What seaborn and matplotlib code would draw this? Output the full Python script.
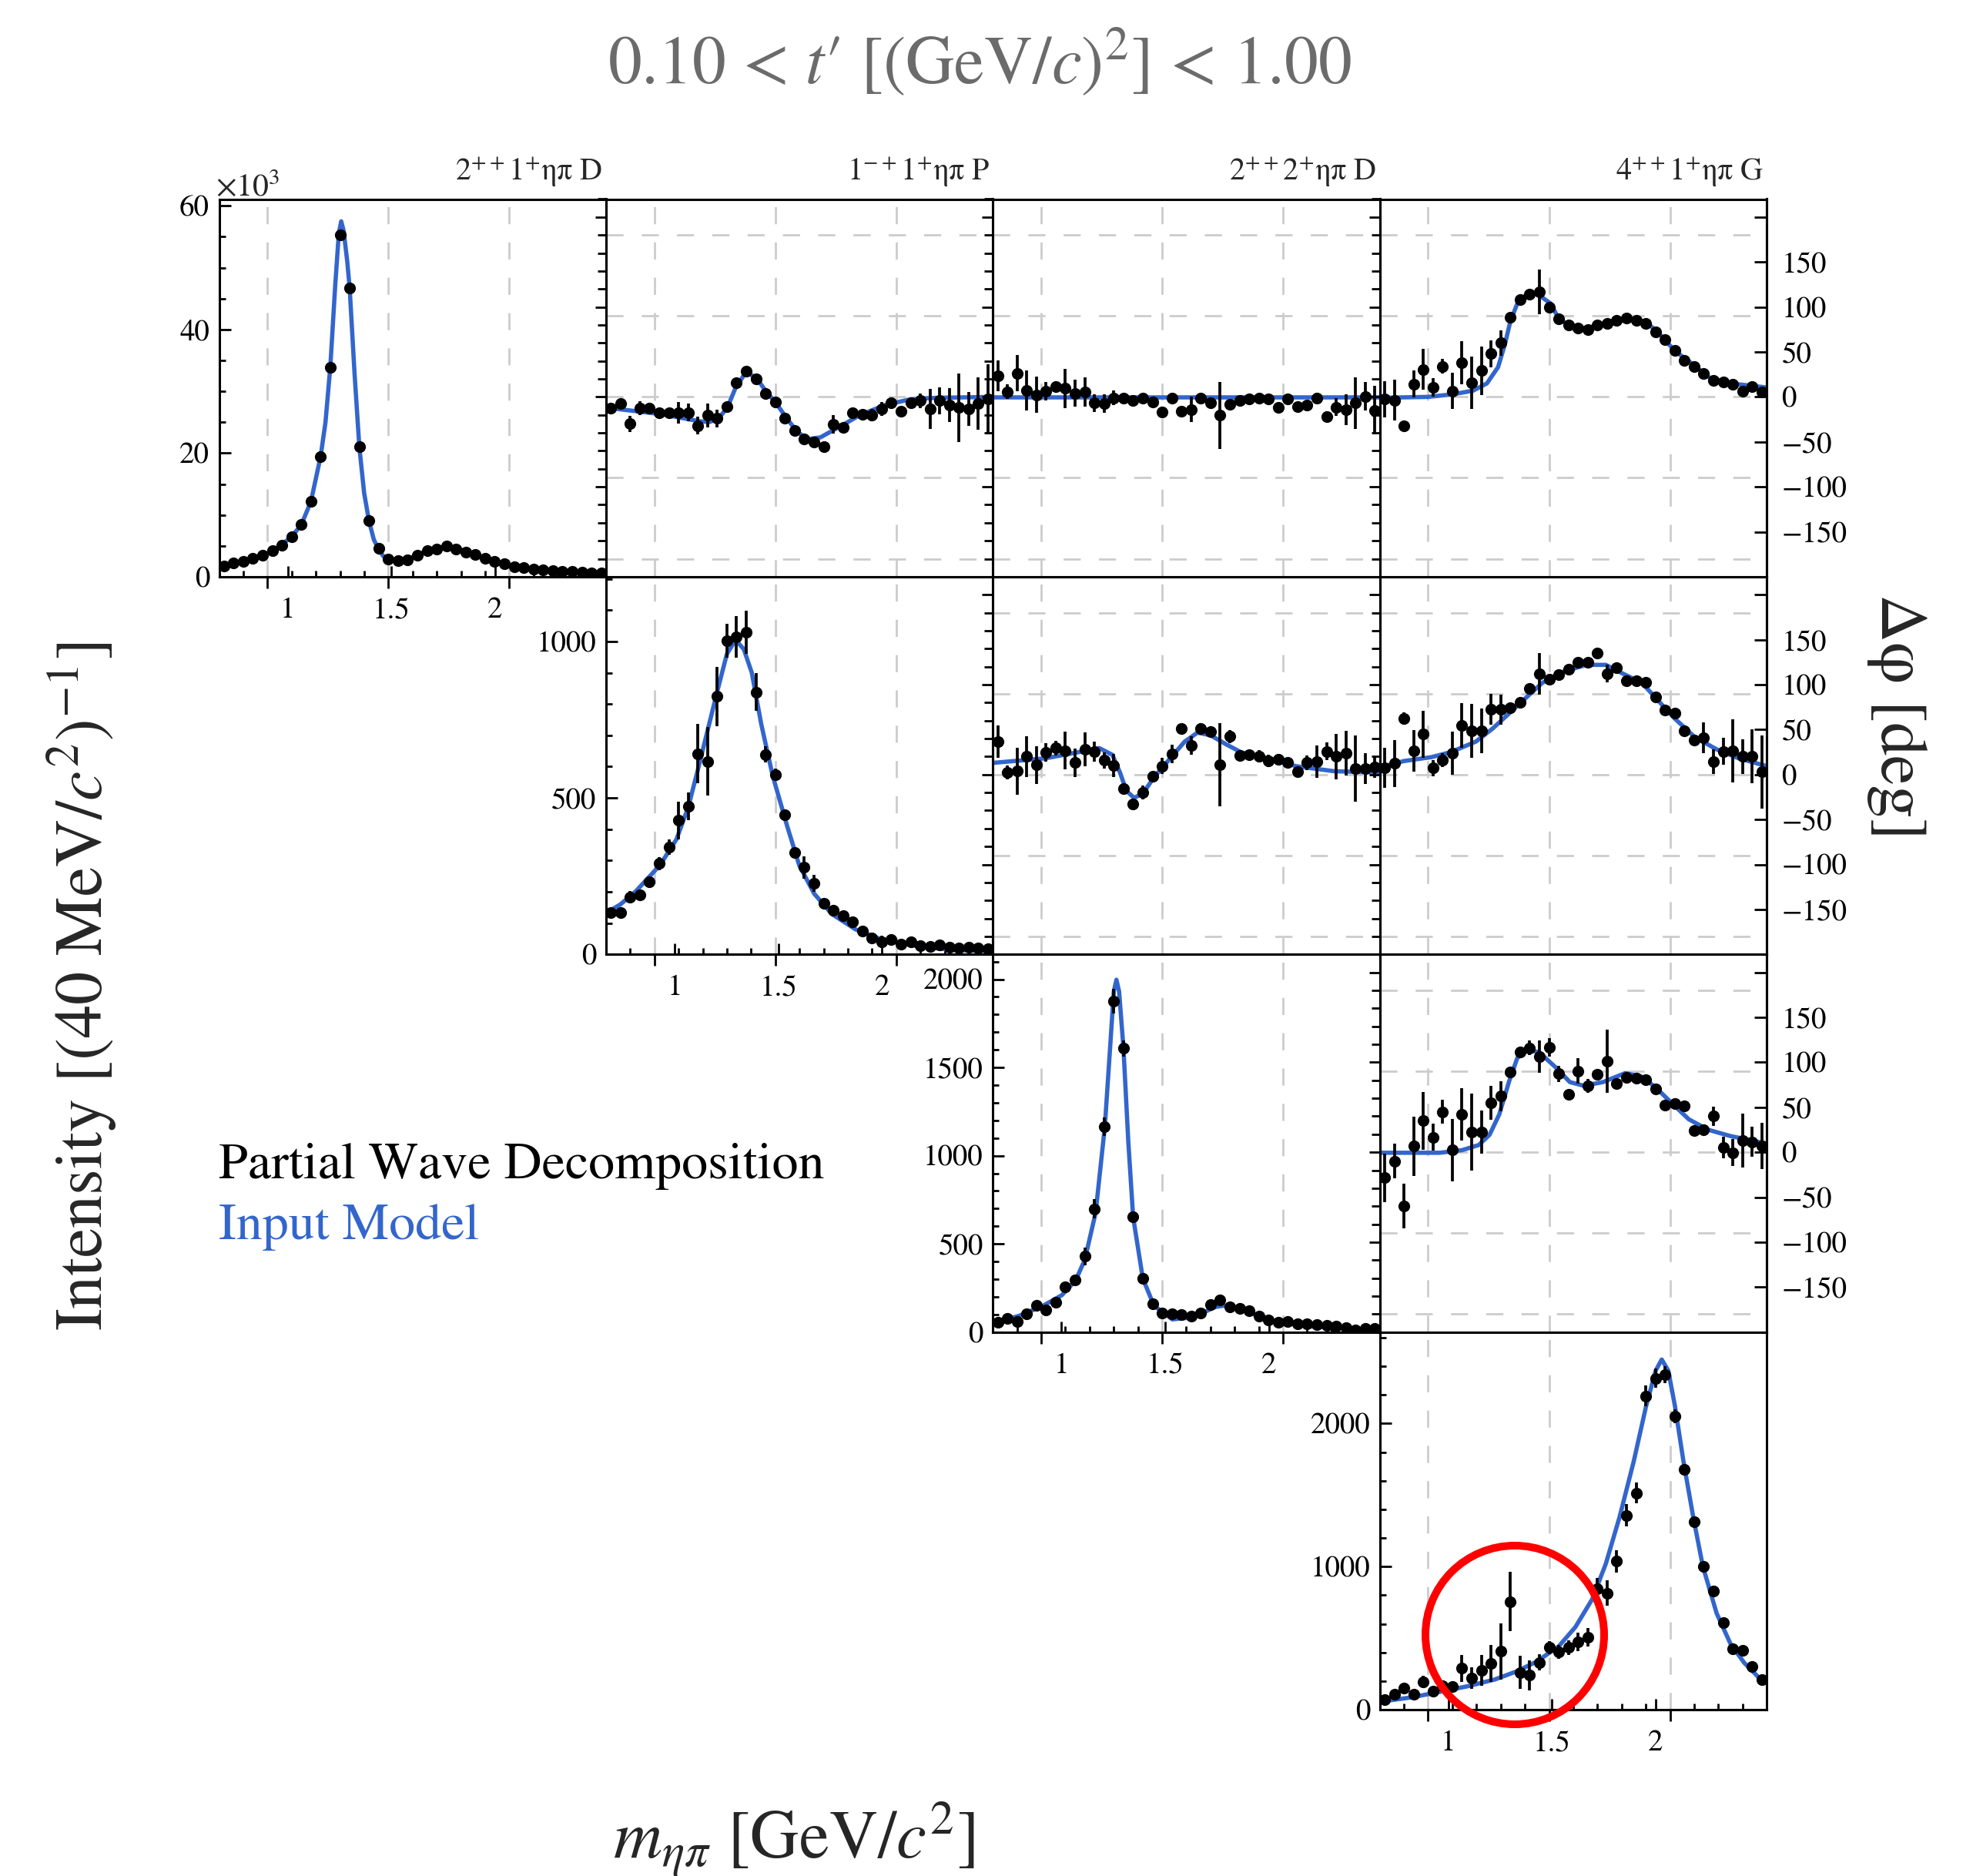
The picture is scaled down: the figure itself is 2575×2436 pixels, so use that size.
import numpy as np
import pandas as pd
import matplotlib
matplotlib.use("Agg")
import matplotlib.pyplot as plt
import seaborn as sns
from matplotlib.patches import Ellipse
from matplotlib.ticker import MultipleLocator, FixedLocator, FuncFormatter, NullLocator

# ---------------- data ----------------
mass_bins = [0.82, 0.86, 0.90, 0.94, 0.98, 1.02, 1.06, 1.10, 1.14, 1.18,
             1.22, 1.26, 1.30, 1.34, 1.38, 1.42, 1.46, 1.50, 1.54, 1.58,
             1.62, 1.66, 1.70, 1.74, 1.78, 1.82, 1.86, 1.90, 1.94, 1.98,
             2.02, 2.06, 2.10, 2.14, 2.18, 2.22, 2.26, 2.30, 2.34, 2.38]

wave_titles = [r"$2^{++}1^{+}$ηπ D", r"$1^{-+}1^{+}$ηπ P",
               r"$2^{++}2^{+}$ηπ D", r"$4^{++}1^{+}$ηπ G"]

# intensities (diagonal)
int_2pp1p = [1760, 2280, 2470, 2950, 3420, 4180, 5090, 6510, 8420, 12200,
             19400, 33900, 55300, 46700, 21100, 9080, 4560, 2850, 2620, 2760,
             3420, 4280, 4520, 4990, 4520, 3990, 3570, 2950, 2470, 2140,
             1660, 1430, 1190, 1050, 950, 860, 810, 710, 620, 570]
int_2pp1p_err = [80, 90, 90, 100, 110, 120, 130, 150, 170, 200,
                 250, 300, 250, 300, 250, 180, 130, 100, 100, 100,
                 110, 120, 120, 130, 120, 110, 100, 90, 85, 80,
                 70, 65, 60, 55, 50, 50, 45, 45, 40, 40]
model_2pp1p_x = [0.80, 0.90, 1.00, 1.06, 1.10, 1.14, 1.18, 1.22, 1.24, 1.26, 1.28, 1.295,
                 1.305, 1.315, 1.33, 1.34, 1.36, 1.38, 1.40, 1.42, 1.44, 1.46, 1.48, 1.50,
                 1.54, 1.58, 1.62, 1.66, 1.70, 1.74, 1.78, 1.82, 1.86, 1.90, 1.94, 2.00,
                 2.10, 2.20, 2.30, 2.40]
model_2pp1p_y = [1600, 2500, 3800, 5200, 6500, 8400, 12200, 19500, 25000, 34000, 47000, 55500,
                 57500, 56000, 51000, 46700, 33000, 21000, 13500, 9000, 6000, 4400, 3300, 2800,
                 2600, 2900, 3500, 4200, 4600, 4800, 4600, 4100, 3500, 3000, 2500, 1900,
                 1300, 950, 700, 550]

int_1mp1p = [134.5, 134.5, 182, 190, 231, 290, 342, 428, 473, 641,
             617, 824, 1002, 1015, 1029, 838, 639, 574, 445, 326,
             278, 227, 162, 141, 125, 104, 75.5, 52.5, 40, 46.8,
             32.8, 41, 27.9, 24.6, 30.4, 22.1, 20.5, 23.8, 19.7, 17.2]
int_1mp1p_err = [8, 8, 20, 10, 15, 20, 25, 60, 45, 95,
                 110, 95, 55, 66, 68, 60, 25, 20, 12, 10,
                 35, 28, 10, 8, 8, 8, 8, 8, 20, 8,
                 6, 6, 6, 6, 6, 5, 5, 5, 5, 5]
model_1mp1p_x = [0.80, 0.86, 0.925, 1.023, 1.091, 1.14, 1.18, 1.22, 1.26, 1.30, 1.336, 1.37,
                 1.403, 1.442, 1.489, 1.55, 1.599, 1.661, 1.734, 1.832, 1.943, 2.09, 2.237, 2.40]
model_1mp1p_y = [132, 160, 203, 285, 367, 470, 590, 715, 840, 960, 1005, 975,
                 900, 736, 572, 408, 285, 194, 129, 80, 47, 26, 14, 10]

int_2pp2p = [55, 78.5, 58.5, 105, 150, 125, 170, 256, 296, 429,
             698, 1165, 1875, 1609, 652, 304, 159, 109, 105, 100,
             92, 109, 155, 180, 142, 134, 122, 92, 67, 55,
             58.5, 47, 45, 42, 37, 33, 25, 12, 22, 20]
int_2pp2p_err = [10, 10, 10, 10, 10, 10, 10, 12, 15, 50,
                 54, 53, 71, 46, 15, 12, 10, 8, 8, 8,
                 8, 8, 8, 8, 8, 8, 8, 6, 6, 6,
                 6, 5, 5, 5, 5, 5, 5, 5, 5, 5]
model_2pp2p_x = [0.80, 0.908, 1.009, 1.085, 1.142, 1.18, 1.225, 1.263, 1.288, 1.30, 1.311, 1.322,
                 1.34, 1.36, 1.38, 1.42, 1.466, 1.542, 1.63, 1.719, 1.757, 1.833, 1.947, 2.10, 2.40]
model_2pp2p_y = [48, 92, 150, 209, 292, 409, 677, 1165, 1679, 1930, 1997, 1930,
                 1609, 1080, 652, 304, 150, 72, 84, 142, 150, 125, 67, 33, 12]

int_4pp1p = [71, 106, 150, 106, 196, 131, 170, 164, 289, 222,
             274, 324, 408, 755, 260, 241, 331, 434, 405, 434,
             476, 505, 848, 815, 1037, 1358, 1513, 2193, 2316, 2341,
             2052, 1680, 1316, 1002, 829, 607, 428, 414, 302, 212]
int_4pp1p_err = [10, 10, 10, 10, 43, 10, 15, 15, 96, 77,
                 108, 130, 197, 207, 116, 106, 58, 48, 48, 52,
                 64, 64, 71, 87, 77, 77, 73, 73, 67, 58,
                 48, 30, 25, 20, 15, 15, 12, 12, 10, 10]
model_4pp1p_x = [0.80, 0.934, 1.048, 1.163, 1.277, 1.369, 1.449, 1.54, 1.609, 1.678, 1.735, 1.792,
                 1.85, 1.901, 1.941, 1.966, 1.993, 2.021, 2.056, 2.096, 2.136, 2.193, 2.25, 2.307,
                 2.364, 2.40]
model_4pp1p_y = [56, 87, 125, 164, 212, 270, 337, 443, 578, 771, 1021, 1349,
                 1734, 2119, 2370, 2447, 2370, 2119, 1734, 1349, 1002, 674, 462, 328,
                 231, 198]

# phase differences (off-diagonal), degrees
ph_01 = [-12.4, -7.5, -29.8, -12.4, -12.4, -17.3, -18, -17.3, -17.3, -32,
         -20.6, -23.9, -10.8, 15.4, 28.5, 20.3, 3.9, -5.9, -23.9, -37,
         -46.8, -50, -55, -30.4, -33.7, -17.3, -19, -20, -13.4, -6.9,
         -15.7, -6.9, -4.3, -13.4, -4.3, -9.2, -11.8, -13.4, -7.5, -2.6]
ph_01_err = [3, 3, 9, 8, 3, 3, 3, 12, 10, 10, 13, 10, 3, 3, 3, 3, 3, 3, 3, 3,
             3, 3, 3, 10, 3, 3, 3, 7, 8, 3, 3, 3, 8, 22, 15, 19, 38, 19, 29, 39]
mph_01_x = [0.80, 1.024, 1.185, 1.227, 1.265, 1.302, 1.334, 1.377, 1.42, 1.462, 1.505, 1.548,
            1.59, 1.633, 1.687, 1.74, 1.794, 1.847, 1.954, 2.06, 2.167, 2.40]
mph_01_y = [-12, -19, -27, -28, -24, -12, 9, 27, 22, 6, -7.5, -24,
            -38.6, -47, -45, -37, -29, -20.6, -9, -2.6, -1, 0]

ph_02 = [23.6, 5.6, 26.2, 7.2, 2.3, 6.2, 11.1, 9.5, 3.9, 5.6,
         -6.9, -7.5, -1, -1, -3.6, -1, -5.9, -16.4, -1, -15.7,
         -14, -1.6, -6.9, -20.6, -8.5, -3.6, -2, -1, -2.6, -11.4,
         -2.6, -10.8, -9.2, -1, -22, -11.4, -14, -6.9, 0.7, -14.7]
ph_02_err = [17, 8, 20, 22, 20, 10, 6, 22, 15, 16, 10, 10, 8, 3, 3, 5, 3, 6, 6, 3,
             14, 5, 3, 37, 3, 3, 3, 3, 3, 3, 3, 3, 3, 6, 6, 10, 17, 29, 16, 27]
mph_02_x = [0.80, 2.40]
mph_02_y = [-0.5, -0.5]

ph_03 = [-2.6, -3.6, -32, 14.4, 30.7, 10.5, 34, 6.5, 37.6, 16,
         29.4, 48, 60, 88.3, 108, 114.5, 116.8, 99.8, 86.7, 80.1,
         76.9, 74.9, 80.1, 81.8, 84.7, 87.3, 85, 81.5, 72.6, 63.8,
         51.4, 40.9, 33.4, 26.2, 18, 16.4, 13.7, 6.5, 11.1, 5.6]
ph_03_err = [20, 23, 6, 15, 23, 10, 8, 20, 24, 29, 27, 15, 14, 3, 3, 5, 25, 3, 3, 3,
             3, 3, 3, 3, 3, 3, 3, 3, 3, 3, 3, 3, 3, 3, 3, 3, 3, 3, 3, 3]
mph_03_x = [0.80, 1.0, 1.105, 1.186, 1.243, 1.289, 1.317, 1.34, 1.369, 1.403, 1.449, 1.506,
            1.54, 1.586, 1.655, 1.712, 1.827, 1.907, 1.953, 2.021, 2.101, 2.159, 2.25, 2.40]
mph_03_y = [-1, 0, 3, 7, 15, 33, 58, 84, 104, 113, 115, 104,
            87, 79, 76, 81, 86, 82, 71, 51, 35, 22, 15, 10.5]

ph_12 = [36.6, 2.3, 3.7, 20, 10.9, 24.6, 29.4, 26.6, 13.1, 28,
         25.7, 16, 10.3, -15.4, -32.6, -20, -2, 9.4, 23, 51.4,
         32.3, 50.9, 48, 10.9, 42.3, 20.9, 21.7, 20.3, 15.1, 17.1,
         13.1, 2.9, 13.1, 14.3, 25.7, 20, 23.7, 6.6, 6.6, 8]
ph_12_err = [18, 8, 26, 23, 21, 10, 8, 21, 16, 19, 11, 9, 13, 3, 3, 8, 3, 9, 10, 3,
             10, 6, 3, 46, 7, 3, 3, 7, 7, 6, 3, 3, 8, 18, 10, 25, 25, 37, 17, 12]
mph_12_x = [0.80, 1.016, 1.155, 1.24, 1.294, 1.326, 1.352, 1.384, 1.422, 1.465, 1.529, 1.593,
            1.646, 1.70, 1.764, 1.828, 1.945, 2.052, 2.212, 2.40]
mph_12_y = [13, 18, 25, 29.4, 22, 2, -18, -26, -20.6, -3.4, 16.6, 36.6,
            46.6, 43.7, 33.7, 24.6, 18, 9.4, 3.7, 2.3]

ph_13 = [7.4, 12.3, 62.3, 26.6, 45, 7.4, 16, 23.7, 54.6, 48.6,
         48.6, 72.9, 72.3, 74.6, 80.3, 96, 112.3, 105.7, 110.9, 117.4,
         124.6, 125.1, 135.1, 112.3, 118.6, 104.6, 104.6, 102.3, 86.6, 71.4,
         68, 48.6, 38, 40.9, 14.3, 25.7, 26.6, 20, 20, 2.9]
ph_13_err = [22, 26, 7, 23, 26, 9, 8, 24, 25, 30, 25, 17, 17, 3, 3, 3, 23, 3, 3, 3,
             3, 3, 3, 10, 3, 3, 3, 3, 3, 3, 3, 3, 3, 17, 14, 15, 35, 19, 30, 41]
mph_13_x = [0.80, 0.899, 1.014, 1.094, 1.197, 1.266, 1.335, 1.403, 1.472, 1.563, 1.655, 1.735,
            1.792, 1.884, 1.952, 2.021, 2.101, 2.193, 2.285, 2.40]
mph_13_y = [8, 15, 19.4, 25, 36.6, 51, 68, 85, 102, 115, 122, 122,
            114, 102, 82, 62, 42, 28, 18, 9.4]

ph_23 = [-28.3, -9.7, -59.7, 6.6, 35.1, 16.6, 45.1, 2.3, 42.3, 22.3,
         22.3, 55.1, 62.3, 89.4, 111.4, 116, 106.6, 116.6, 87.4, 64.6,
         90.3, 73.7, 86.6, 101.4, 76.6, 83.1, 82.3, 80.3, 70.3, 52.3,
         54.3, 51.4, 24.3, 25.1, 40, 5.7, -0.6, 13.1, 11.7, 7.1]
ph_23_err = [27, 19, 25, 33, 32, 15, 13, 35, 29, 43, 24, 19, 17, 3, 3, 8, 18, 10, 9, 3,
             14, 8, 3, 35, 3, 3, 3, 3, 3, 3, 3, 3, 3, 3, 11, 12, 15, 30, 17, 26]
mph_23_x = [0.80, 1.048, 1.14, 1.209, 1.254, 1.294, 1.335, 1.369, 1.415, 1.46, 1.529, 1.586,
            1.643, 1.723, 1.815, 1.884, 1.941, 2.01, 2.078, 2.158, 2.25, 2.341, 2.40]
mph_23_y = [-0.6, -0.6, 2.3, 8, 19.4, 42, 79, 105, 114, 111, 94, 78,
            74, 78, 88, 84, 72, 54, 36.6, 25, 18, 13, 9.4]

x_label_ticks = [1, 1.5, 2]
x_label_text = ["1", "1.5", "2"]
x_grid = [1.0, 1.5, 2.0]
phase_grid = [-180, -90, 0, 90, 180]
phase_label_ticks = [-150, -100, -50, 0, 50, 100, 150, 200]

# ---------------- style ----------------
sns.set_theme(style="ticks", rc={"axes.edgecolor": "black", "axes.linewidth": 2.2,
                                 "xtick.color": "black", "ytick.color": "black",
                                 "axes.facecolor": "none", "figure.facecolor": "white"})
plt.rcParams['font.family'] = ['STIXGeneral', 'DejaVu Serif']
plt.rcParams['mathtext.fontset'] = 'stix'
plt.rcParams['axes.unicode_minus'] = True

BLUE = "#3366CC"
GRID = "#cccccc"
GRID_LS = (0, (8, 8.5))
TICK_FS = 28

W, H = 2575, 2436
fig = plt.figure(figsize=(W / 100, H / 100), dpi=100)

X0, CW = 284.5, 502.4
Y0, RH = 258.5, 490.4


def rect(r, c):
    return [(X0 + c * CW) / W, 1 - (Y0 + (r + 1) * RH) / H, CW / W, RH / H]


LAB_A, LAB_B = 0.227, 0.857


def fwd(x):
    return (np.asarray(x) - LAB_A) / LAB_B


def inv(x):
    return LAB_A + LAB_B * np.asarray(x)


def draw_points(ax, vals, errs, mx, my):
    sns.lineplot(x=mx, y=my, ax=ax, color=BLUE, linewidth=4.0, sort=False,
                 estimator=None, zorder=2)
    ax.errorbar(mass_bins, vals, yerr=errs, fmt='none', ecolor='black',
                elinewidth=2.7, capsize=0, zorder=3)
    sns.scatterplot(x=mass_bins, y=vals, ax=ax, color='black', s=120,
                    linewidth=0, zorder=4, legend=False)


def intensity_panel(r, vals, errs, mx, my, major, minor, fmt):
    ax = fig.add_axes(rect(r, r))
    ax.patch.set_alpha(0)
    for g in x_grid:
        ax.axvline(g, color=GRID, lw=2, ls=GRID_LS, zorder=0)
    draw_points(ax, vals, errs, mx, my)
    ax.set_xlim(0.8, 2.4)
    ymax = 1.1 * max(v + e for v, e in zip(vals, errs))
    ax.set_ylim(0, ymax)
    ax.set_xlabel("")
    ax.set_ylabel("")
    ax.xaxis.set_major_locator(FixedLocator(x_grid))
    ax.xaxis.set_minor_locator(MultipleLocator(0.1))
    ax.tick_params(axis='x', which='major', direction='out', length=11, width=2,
                   bottom=True, top=False, labelbottom=False)
    ax.tick_params(axis='x', which='minor', direction='in', length=6, width=2,
                   bottom=True, top=False)
    ax.yaxis.set_major_locator(MultipleLocator(major))
    ax.yaxis.set_minor_locator(MultipleLocator(minor))
    ax.yaxis.set_major_formatter(FuncFormatter(fmt))
    ax.tick_params(axis='y', which='major', direction='in', length=11, width=2,
                   left=True, right=False, labelsize=TICK_FS, pad=9)
    ax.tick_params(axis='y', which='minor', direction='in', length=6, width=2,
                   left=True, right=False)
    sec = ax.secondary_xaxis('bottom', functions=(fwd, inv))
    sec.set_xticks(x_label_ticks)
    sec.set_xticklabels(x_label_text)
    sec.xaxis.set_minor_locator(NullLocator())
    sec.tick_params(direction='in', length=10, width=2, labelsize=TICK_FS, pad=19)
    sec.spines['bottom'].set_linewidth(2.2)
    return ax


def phase_fmt(v, p):
    if v > 175:
        return ""
    return f"{int(round(v))}".replace("-", "\u2212")


def phase_panel(r, c, vals, errs, mx, my):
    ax = fig.add_axes(rect(r, c))
    ax.patch.set_alpha(0)
    for g in x_grid:
        ax.axvline(g, color=GRID, lw=2, ls=GRID_LS, zorder=0)
    for g in phase_grid:
        ax.axhline(g, color=GRID, lw=2, ls=GRID_LS, zorder=0)
    draw_points(ax, vals, errs, mx, my)
    ax.set_xlim(0.8, 2.4)
    ax.set_ylim(-200, 220)
    ax.set_xlabel("")
    ax.set_ylabel("")
    ax.xaxis.set_major_locator(NullLocator())
    ax.xaxis.set_minor_locator(NullLocator())
    ax.tick_params(axis='x', which='both', bottom=False, top=False, labelbottom=False)
    ax.yaxis.set_major_locator(MultipleLocator(100))
    ax.yaxis.set_minor_locator(MultipleLocator(20))
    ax.tick_params(axis='y', which='major', direction='out', length=10, width=2,
                   left=True, right=False, labelleft=False)
    ax.tick_params(axis='y', which='minor', direction='out', length=8, width=2,
                   left=True, right=False)
    if c == 3:
        sec = ax.secondary_yaxis('right')
        sec.yaxis.set_major_locator(FixedLocator(phase_label_ticks))
        sec.yaxis.set_minor_locator(NullLocator())
        sec.yaxis.set_major_formatter(FuncFormatter(phase_fmt))
        sec.tick_params(direction='in', length=11.5, width=2, labelsize=TICK_FS, pad=14)
        sec.spines['right'].set_linewidth(2.2)
    return ax


intensities = [
    (int_2pp1p, int_2pp1p_err, model_2pp1p_x, model_2pp1p_y, 20000, 5000,
     lambda v, p: f"{v / 1000:g}"),
    (int_1mp1p, int_1mp1p_err, model_1mp1p_x, model_1mp1p_y, 500, 100,
     lambda v, p: f"{v:g}"),
    (int_2pp2p, int_2pp2p_err, model_2pp2p_x, model_2pp2p_y, 500, 100,
     lambda v, p: f"{v:g}"),
    (int_4pp1p, int_4pp1p_err, model_4pp1p_x, model_4pp1p_y, 1000, 200,
     lambda v, p: f"{v:g}"),
]
phases = {
    (0, 1): (ph_01, ph_01_err, mph_01_x, mph_01_y),
    (0, 2): (ph_02, ph_02_err, mph_02_x, mph_02_y),
    (0, 3): (ph_03, ph_03_err, mph_03_x, mph_03_y),
    (1, 2): (ph_12, ph_12_err, mph_12_x, mph_12_y),
    (1, 3): (ph_13, ph_13_err, mph_13_x, mph_13_y),
    (2, 3): (ph_23, ph_23_err, mph_23_x, mph_23_y),
}

for r in range(4):
    for c in range(r, 4):
        if r == c:
            intensity_panel(r, *intensities[r])
        else:
            phase_panel(r, c, *phases[(r, c)])

# ---------------- texts ----------------
def ftext(xpx, ypx, s, **kw):
    fig.text(xpx / W, 1 - ypx / H, s, **kw)


ftext(1272, 108, r"0.10 < $t$′ [(GeV/$c$)$^{2}$] < 1.00", ha='center', va='baseline',
      fontsize=63, color='#6b6b6b')
for c in range(4):
    ftext(X0 + (c + 1) * CW - 4, 234, wave_titles[c], ha='right', va='baseline', fontsize=29)
ftext(X0 - 4, 254, r"$\times10^{3}$", ha='left', va='baseline', fontsize=30)

ftext(107, 1281, r"Intensity [(40 MeV/$c^{2}$)$^{-1}$]", rotation=90, ha='center',
      va='center', fontsize=62)
ftext(2463, 931, "Δφ [deg]", rotation=-90, ha='center', va='center', fontsize=62)
ftext(1031, 2389, r"$m_{\eta\pi}$ [GeV/$c^{2}$]", ha='center', va='center', fontsize=63)

ftext(284, 1530, "Partial Wave Decomposition", ha='left', va='baseline', fontsize=49,
      color='black')
ftext(284, 1609, "Input Model", ha='left', va='baseline', fontsize=49, color=BLUE)

circ = Ellipse((1967 / W, 1 - 2123 / H), width=2 * 116 / W, height=2 * 116 / H,
               transform=fig.transFigure, fill=False, edgecolor='red', linewidth=7.2,
               clip_on=False, zorder=10)
fig.add_artist(circ)

fig.savefig("out.png", dpi=100)
